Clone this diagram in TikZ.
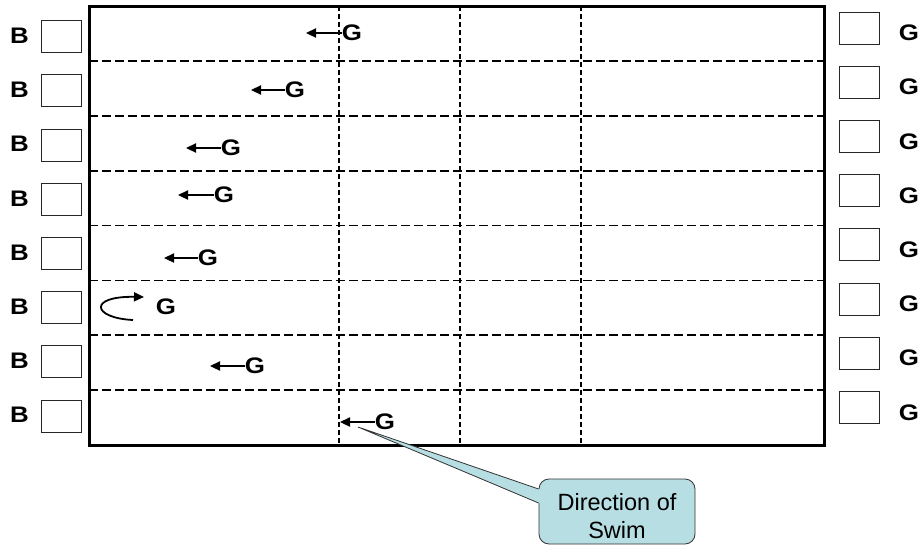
\documentclass[tikz,border=0pt]{standalone}
\usepackage{fontspec}
\setmainfont{Liberation Sans}
\usetikzlibrary{arrows.meta}
\definecolor{callfill}{RGB}{183,222,226}
\newcommand{\wide}[1]{\scalebox{1.15}[1]{#1}}
\begin{document}
\begin{tikzpicture}[x=1pt,y=-1pt,
  lanebox/.style={draw=black!85, line width=0.9pt, minimum width=40pt, minimum height=32pt, inner sep=0pt},
  lbl/.style={font=\fontsize{22.5}{26}\selectfont\bfseries, inner sep=0pt},
  swim/.style={line width=2.3pt, -{Triangle[length=10pt,width=9pt]}},
  lanesep/.style={line width=1.8pt, dash pattern=on 9pt off 4pt},
  markline/.style={line width=1.1pt, dash pattern=on 5pt off 3pt},
  callout/.style={draw=black!80, line width=0.8pt, fill=callfill},
]
\useasboundingbox (0,0) rectangle (922,546);

% pool: distance markers, lane ropes, then the outer wall
\foreach \x in {339,460,581} \draw[markline] (\x,6) -- (\x,445);
\foreach \y in {60.9,115.75,170.6,225.5,280.4,335.25,390.1} \draw[lanesep] (89,\y) -- (824,\y);
\draw[line width=3pt] (89,6) rectangle (824,445);

% starting blocks on both ends
\foreach \i in {0,...,7} {
  \node[lbl] (bl\i) at (19.5,35.7+54.2*\i) {\wide{B}};
  \node[lanebox] (lb\i) at (61,36.7+54.2*\i) {};
  \node[lanebox] (rb\i) at (859.5,28+54.2*\i) {};
  \node[lbl] (rg\i) at (909,33+54.2*\i) {\wide{G}};
}

% swimmers heading to the left wall
\foreach \i/\gx/\gy/\tx in {1/352/33/306, 2/295/90/251, 3/231/148/186, 4/224/195/178, 5/208/258/164, 7/255/366/210, 8/385/422/340} {
  \node[lbl] (g\i) at (\gx,\gy) {\wide{G}};
  \coordinate (t\i) at (\tx,\gy);
  \draw[swim] (g\i.west) -- (t\i);
}

% swimmer making the turn
\node[lbl] (g6) at (166,307) {\wide{G}};
\coordinate (turnA) at (133,320);
\coordinate (turnB) at (144,297);
\draw[swim, line width=1.8pt] (turnA) .. controls (92,318) and (88,296) .. (turnB);

% callout
\node[callout, rounded corners=10pt, minimum width=156pt, minimum height=65pt, inner sep=0pt] (note) at (617,511.5) {};
\coordinate (ctip) at (358,427);
\fill[callfill] (ctip) -- ([yshift=22.5pt]note.west) -- ([yshift=22.5pt,xshift=6pt]note.west) -- ([yshift=8.5pt,xshift=6pt]note.west) -- ([yshift=8.5pt]note.west) -- cycle;
\draw[black!80, line width=0.8pt] ([yshift=22.5pt]note.west) -- (ctip) -- ([yshift=8.5pt]note.west);
\node[align=center, font=\fontsize{23.5}{28}\selectfont, inner sep=0pt] (notetext) at (617,516) {Direction of\\Swim};
\end{tikzpicture}
\end{document}
